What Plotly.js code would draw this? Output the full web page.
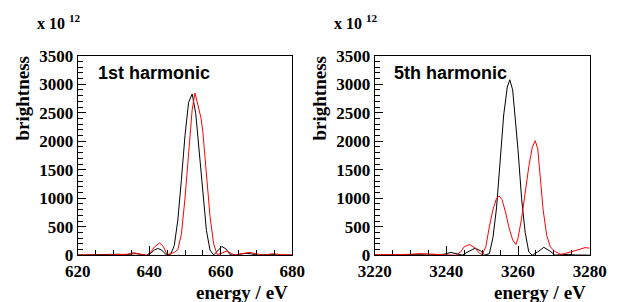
<!DOCTYPE html>
<html>
<head>
<meta charset="utf-8">
<script src="https://cdn.plot.ly/plotly-3.0.1.min.js"></script>
<style>
html,body{margin:0;padding:0;background:#fff;}
#chart{width:618px;height:302px;}
</style>
</head>
<body>
<div id="chart"></div>
<script>
// 1st harmonic (left panel)
const e1Black = [620,622,624,626,628,630,631.5,633,634.5,636,637.5,639.2,640.5,641.5,642.4,643.5,644.8,646,647,648,649,650,651,652,653,654,655,656,657,658,659,660.3,661.5,662.6,664,665.5,667,668.5,670,672,674,676,678,680];
const b1Black = [5,8,4,2,6,12,18,5,15,30,18,0,40,95,120,90,5,20,170,620,1330,2100,2680,2830,2490,1790,1040,430,90,5,70,155,110,10,5,20,35,25,5,10,15,5,3,5];
const e1Red = [620,622,624,626,628,630,632,634,635.5,637,639.2,640.5,641.5,642.9,644,645,646,647,648,649,650,651,652,652.8,653.7,654.5,655,656,657,658,659,660,661,661.7,663,664,666,668.2,670,672,674.7,677,680];
const b1Red = [5,10,8,3,5,10,5,20,45,30,0,60,150,217,150,10,35,50,100,370,1000,1800,2550,2845,2620,2400,2160,1420,680,200,15,30,65,76,30,3,30,50,25,3,28,10,5];

// 5th harmonic (right panel)
const e5Black = [3220,3223,3226,3229,3232,3235,3237,3239,3241.3,3243,3244.5,3246,3248,3249.5,3250.7,3252,3253,3254,3255,3256,3257,3257.7,3258.5,3259,3260,3261,3262,3263,3264,3265.5,3267.2,3269,3270.3,3272,3274,3276,3278,3280];
const b5Black = [5,8,5,10,12,5,10,15,50,30,3,60,125,80,5,30,310,830,1690,2460,2950,3078,2900,2590,1850,990,400,60,3,60,140,70,3,10,15,5,8,3];
const e5Red = [3220,3223,3226,3229,3232.8,3235,3238,3240,3242.6,3244,3245,3246.5,3248,3249,3250,3251,3252,3253,3254,3254.7,3255.5,3256.5,3257.5,3258.5,3259.4,3260,3261,3262,3263,3264,3264.8,3265.5,3266,3267,3268,3269,3270.2,3271.8,3273,3275,3277,3278.7,3280];
const b5Red = [10,8,5,15,30,20,5,8,0,60,150,190,130,50,10,150,500,800,1000,1040,980,760,480,270,190,300,650,1100,1550,1900,2010,1870,1500,800,350,150,70,18,30,60,100,135,125];

const panelLabels = ["1st harmonic", "5th harmonic"];
const xTitle = "energy / eV";
const yTitle = "brightness";
const scaleLabel = "x 10 <sup>12</sup>";

const W = 618, H = 302;
const px = v => v / W;
const py = v => (H - v) / H;

const SERIF = "Times New Roman, Liberation Serif, serif";
const F = () => ({family: SERIF, size: 17, color: "#000", weight: 700});
const TF = () => ({family: SERIF, size: 19, color: "#000", weight: 700});
const SF = () => ({family: SERIF, size: 16, color: "#000", weight: 700});
const LF = () => ({family: "Arial, Liberation Sans, sans-serif", size: 18, color: "#000", weight: 700});

const traces = [
  {x: e1Black, y: b1Black, mode: "lines", line: {color: "#000", width: 1}},
  {x: e1Red, y: b1Red, mode: "lines", line: {color: "#ff0000", width: 1}},
  {x: e5Black, y: b5Black, xaxis: "x2", yaxis: "y2", mode: "lines", line: {color: "#000", width: 1}},
  {x: e5Red, y: b5Red, xaxis: "x2", yaxis: "y2", mode: "lines", line: {color: "#ff0000", width: 1}}
];

const base = (mdt) => ({ticks: "inside", ticklen: 9, tickwidth: 1, tickcolor: "#000",
    minor: {dtick: mdt, ticks: "inside", ticklen: 5, tickcolor: "#000", tickwidth: 1},
    showline: true, linecolor: "#000", linewidth: 1, mirror: true,
    showgrid: false, zeroline: false, tickfont: F(), fixedrange: true});

const annotations = [
  {text: panelLabels[0], x: px(96), y: py(73), xref: "paper", yref: "paper", xanchor: "left", yanchor: "middle", showarrow: false, font: LF()},
  {text: panelLabels[1], x: px(392), y: py(73), xref: "paper", yref: "paper", xanchor: "left", yanchor: "middle", showarrow: false, font: LF()},
  {text: yTitle, textangle: -90, x: px(22), y: py(98.5), xref: "paper", yref: "paper", xanchor: "center", yanchor: "middle", showarrow: false, font: TF()},
  {text: yTitle, textangle: -90, x: px(319), y: py(98.5), xref: "paper", yref: "paper", xanchor: "center", yanchor: "middle", showarrow: false, font: TF()},
  {text: xTitle, x: px(290), y: py(292), xref: "paper", yref: "paper", xanchor: "right", yanchor: "middle", showarrow: false, font: TF()},
  {text: xTitle, x: px(588), y: py(292), xref: "paper", yref: "paper", xanchor: "right", yanchor: "middle", showarrow: false, font: TF()},
  {text: scaleLabel, x: px(35), y: py(22), xref: "paper", yref: "paper", xanchor: "left", yanchor: "middle", showarrow: false, font: SF()},
  {text: scaleLabel, x: px(332), y: py(22), xref: "paper", yref: "paper", xanchor: "left", yanchor: "middle", showarrow: false, font: SF()}
];

const layout = {
  width: W, height: H, margin: {l: 0, r: 0, t: 0, b: 0}, showlegend: false,
  xaxis: Object.assign(base(5), {domain: [px(77.7), px(292.3)], range: [620, 680], tick0: 620, dtick: 20}),
  yaxis: Object.assign(base(100), {domain: [py(255.3), py(55.7)], range: [0, 3500], dtick: 500, ticklen: 8}),
  xaxis2: Object.assign(base(5), {domain: [px(374.7), px(589.7)], range: [3220, 3280], tick0: 3220, dtick: 20, anchor: "y2"}),
  yaxis2: Object.assign(base(100), {domain: [py(255.3), py(55.7)], range: [0, 3500], dtick: 500, ticklen: 8, anchor: "x2"}),
  annotations: annotations
};

Plotly.newPlot("chart", traces, layout, {staticPlot: true});
</script>
</body>
</html>
